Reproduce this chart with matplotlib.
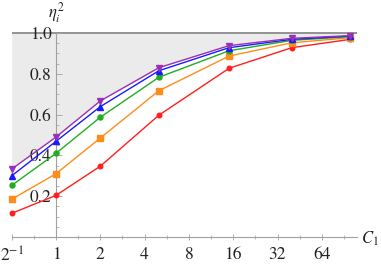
import numpy as np
import matplotlib
matplotlib.use("Agg")
import matplotlib.pyplot as plt
from matplotlib.ticker import NullFormatter

C = [0.5, 1, 2, 5, 15, 40, 100]
purple = [0.333, 0.49, 0.667, 0.830, 0.938, 0.974, 0.987]
blue   = [0.300, 0.469, 0.639, 0.815, 0.928, 0.969, 0.985]
green  = [0.253, 0.410, 0.587, 0.783, 0.913, 0.964, 0.982]
orange = [0.185, 0.310, 0.485, 0.717, 0.887, 0.952, 0.977]
red    = [0.116, 0.204, 0.347, 0.597, 0.827, 0.928, 0.969]

xticks = [0.5, 1, 2, 4, 8, 16, 32, 64]
xticklabels = [r"$2^{-1}$", "1", "2", "4", "8", "16", "32", "64"]
yticks = [0.2, 0.4, 0.6, 0.8, 1.0]

plt.rcParams['font.family'] = ['STIXGeneral', 'DejaVu Serif']
plt.rcParams['mathtext.fontset'] = 'stix'

fig = plt.figure(figsize=(3.81, 2.68), dpi=100)
ax = fig.add_axes([0, 0, 1, 1])
ax.set_xscale('log', base=2)

px_per_oct = 44.3
x0 = 56
ax.set_xlim(2 ** (-x0 / px_per_oct), 2 ** ((381 - x0) / px_per_oct))
ax.set_ylim(-(268 - 237) / 204, 237 / 204)

# Shaded region above top curve
ax.fill_between(C, purple, 1.0, color='#ebebeb', lw=0, zorder=0)
x_end = 2 ** ((357 - x0) / px_per_oct)
ax.plot([0.5, x_end], [1.0, 1.0], color='#8a8a8a', lw=1.3, zorder=1, solid_capstyle='butt')

series = [
    (red, '#ff1f1f', 'o', 3.3),
    (orange, '#ff8c1a', 's', 4.0),
    (green, '#1fae1f', 'o', 3.6),
    (blue, '#1a1aff', '^', 4.3),
    (purple, '#9b30b8', 'v', 4.3),
]
for vals, col, m, ms in series:
    ax.plot(C, vals, color=col, lw=1.0, marker=m, ms=ms, mec=col, mfc=col, zorder=3)

for s in ['top', 'right']:
    ax.spines[s].set_visible(False)
ax.spines['left'].set_position(('data', 1))
ax.spines['bottom'].set_position(('data', 0))
ax.spines['left'].set_bounds(0, 1.0)
ax.spines['bottom'].set_bounds(0.5, x_end)
for s in ['left', 'bottom']:
    ax.spines[s].set_color('#a0a0a0')
    ax.spines[s].set_linewidth(0.8)

ax.set_xticks(xticks)
ax.set_xticklabels(xticklabels)
minor_x = [2 ** (k + 0.5) for k in range(-1, 7)]
ax.set_xticks(minor_x, minor=True)
ax.xaxis.set_minor_formatter(NullFormatter())
ax.set_yticks(yticks)
ax.set_yticklabels([f"{v:.1f}" for v in yticks])
ax.set_yticks([v for v in np.arange(0.05, 1.0, 0.05) if abs(v * 5 - round(v * 5)) > 1e-6], minor=True)
ax.yaxis.set_minor_formatter(NullFormatter())

ax.tick_params(axis='both', which='major', direction='in', length=4, width=0.6,
               color='#a0a0a0', labelsize=12.5, labelcolor='#222222')
ax.tick_params(axis='both', which='minor', direction='in', length=2.5, width=0.5, color='#a0a0a0')
ax.tick_params(axis='x', which='both', direction='inout')
ax.tick_params(axis='x', which='major', pad=5)
ax.tick_params(axis='y', which='major', pad=3)
for lab in ax.get_yticklabels():
    lab.set_zorder(2)

ax.text(1, (237 - 13) / 204, r"$\eta_i^2$", fontsize=12, ha='center', va='center', color='#222222')
ax.text(2 ** ((361 - x0) / px_per_oct), -2 / 204, r"$C_1$", fontsize=12, ha='left', va='center', color='#222222')

fig.savefig("out.png", dpi=100)
